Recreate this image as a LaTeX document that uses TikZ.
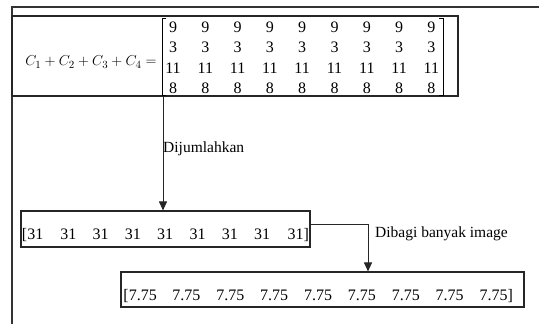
\documentclass[tikz,border=0pt]{standalone}
\usepackage{fontspec}
\setmainfont{Liberation Serif}
\usetikzlibrary{arrows.meta}
\tikzset{
  frame/.style={draw=black!80, line width=1.2pt},
  boxline/.style={draw=black!85, line width=1.1pt},
  conn/.style={draw=black!85, line width=1pt},
  arr/.style={conn, -{Triangle[length=9pt,width=8pt]}},
  txt/.style={inner sep=0pt, font=\fontsize{15.5}{18}\selectfont},
  num/.style={inner sep=0pt, font=\fontsize{16}{18}\selectfont, anchor=base},
  bx/.style={boxline, rectangle, inner sep=0pt}
}
\begin{document}
\begin{tikzpicture}[x=1pt,y=-1pt]
\useasboundingbox (0,0) rectangle (539,324);
% outer frame lines
\coordinate (ftl) at (12,7);
\coordinate (ftr) at (539,7);
\coordinate (fbl) at (12,324);
\draw[frame] (ftr) -- (ftl) -- (fbl);
% top box
\node[bx, minimum width=446pt, minimum height=80pt] (topbox) at (235,56) {};
\node[txt, font=\fontsize{15}{18}\selectfont] (eq) at (91,62) {$C_1+C_2+C_3+C_4=$};
% matrix brackets
\coordinate (lbt) at (162,18);
\coordinate (lbb) at (162,95);
\coordinate (rbt) at (443,18);
\coordinate (rbb) at (443,95);
\draw[line width=0.9pt] ([xshift=4pt]lbt) -- (lbt) -- (lbb) -- ([xshift=4pt]lbb);
\draw[line width=0.9pt] ([xshift=-4pt]rbt) -- (rbt) -- (rbb) -- ([xshift=-4pt]rbb);
\foreach \c in {0,...,8} {
  \node[num] (m1-\c) at (173+32.3*\c,32.5) {9};
  \node[num] (m2-\c) at (173+32.3*\c,52.5) {3};
  \node[num] (m3-\c) at (173+32.3*\c,73.5) {11};
  \node[num] (m4-\c) at (173+32.3*\c,93.5) {8};
}
% box 2
\node[bx, minimum width=289pt, minimum height=36pt] (box2) at (165.5,229) {};
\node[num, anchor=base east] (r-0) at (43.5,239.5) {[31};
\foreach \c in {1,...,7} {
  \node[num] (r-\c) at (36+32.3*\c,239.5) {31};
}
\node[num, anchor=base west] (r-8) at (287.5,239.5) {31]};
% box 3
\node[bx, minimum width=403pt, minimum height=35pt] (box3) at (322.5,289.5) {};
\node[num, anchor=base east] (s-0) at (157,300.5) {[7.75};
\foreach \c in {1,...,7} {
  \node[num] (s-\c) at (142.5+43.875*\c,300.5) {7.75};
}
\node[num, anchor=base west] (s-8) at (479.5,300.5) {7.75]};
% connectors
\coordinate (a1) at (163,0);
\draw[arr] (topbox.south -| a1) -- (box2.north -| a1);
\node[txt, anchor=west] (lab1) at (163,149) {Dijumlahkan};
\coordinate (k) at (368,224);
\draw[arr] (box2.east |- k) -- (k) -- (box3.north -| k);
\node[txt, anchor=west] (lab2) at (375,234) {Dibagi banyak image};
\end{tikzpicture}
\end{document}
